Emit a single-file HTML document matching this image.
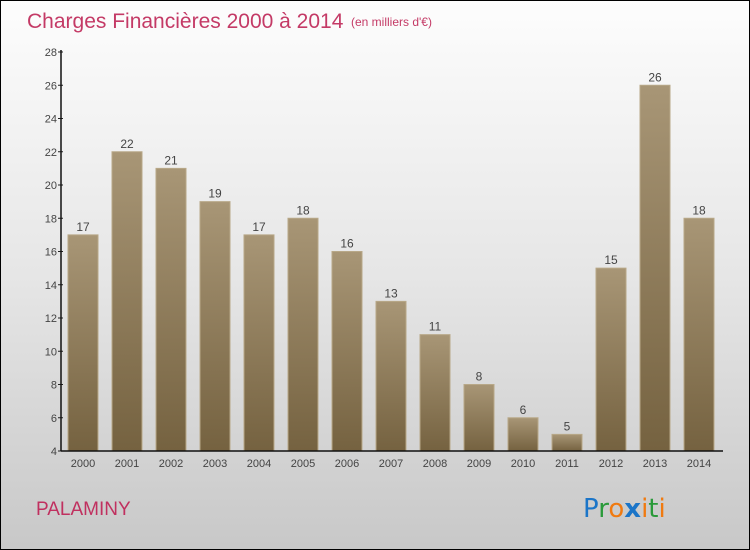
<!DOCTYPE html>
<html><head><meta charset="utf-8"><style>
body{margin:0;}
#wrap{width:750px;height:550px;position:relative;box-sizing:border-box;border:1px solid #000;background:linear-gradient(#fdfdfd,#e6e6e6 50%,#c8c8c8);overflow:hidden;font-family:"Liberation Sans",sans-serif;}
svg{position:absolute;left:0;top:0;}
</style></head><body>
<div id="wrap">
<svg id="c" width="750" height="550">
<defs><linearGradient id="g" x1="0" y1="0" x2="0" y2="1"><stop offset="0" stop-color="#a89676"/><stop offset="1" stop-color="#756240"/></linearGradient></defs>
<text x="26" y="27" font-size="21" fill="#c43a66">Charges Financières 2000 à 2014</text>
<text x="350" y="25" font-size="12" fill="#c43a66">(en milliers d'€)</text>
<text x="35" y="514" font-size="19" fill="#c0305f">PALAMINY</text>
<g font-size="26" font-family="'DejaVu Sans',sans-serif">
<text x="582" y="516"><tspan fill="#1b75c8">P</tspan><tspan fill="#2a9a3a">r</tspan><tspan fill="#f07a10">o</tspan><tspan fill="#1b75c8" font-weight="bold">x</tspan><tspan fill="#f07a10">i</tspan><tspan fill="#2a9a3a">t</tspan><tspan fill="#f07a10">i</tspan></text></g>
</svg></div>
<script>
const years=["2000","2001","2002","2003","2004","2005","2006","2007","2008","2009","2010","2011","2012","2013","2014"];
const values=[17,22,21,19,17,18,16,13,11,8,6,5,15,26,18];
const yTicks=[4,6,8,10,12,14,16,18,20,22,24,26,28];
const svg=document.getElementById('c');const NS='http://www.w3.org/2000/svg';
const x0=60,x1=722,yTop=51,yBot=450,vMin=4,vMax=28;
const y=v=>yBot-(v-vMin)/(vMax-vMin)*(yBot-yTop);
const step=44;
const xc=i=>x0+22+step*i;
function el(t,a){const e=document.createElementNS(NS,t);for(const k in a)e.setAttribute(k,a[k]);svg.appendChild(e);return e;}
yTicks.forEach(t=>{const l=el('line',{x1:x0-3,x2:x0+2,y1:y(t),y2:y(t),stroke:'#222'});


const tx=el('text',{x:x0-4,y:y(t)+4,'text-anchor':'end','font-size':11,fill:'#444'});tx.textContent=t;

});
values.forEach((v,i)=>{const bw=30;const r=el('rect',{x:xc(i)-bw/2,y:y(v),width:bw,height:yBot-y(v),fill:'url(#g)',stroke:'#b8a888','stroke-width':1});


const lb=el('text',{x:xc(i),y:y(v)-4,'text-anchor':'middle','font-size':12,fill:'#444'});lb.textContent=v;


const xl=el('text',{x:xc(i),y:466,'text-anchor':'middle','font-size':11,fill:'#444'});xl.textContent=years[i];

});
const ya=el('line',{x1:x0,x2:x0,y1:yTop-2,y2:yBot,stroke:'#111','stroke-width':1.5});


const xa=el('line',{x1:x0,x2:x1,y1:yBot,y2:yBot,stroke:'#111','stroke-width':1.5});


</script>
</body></html>
